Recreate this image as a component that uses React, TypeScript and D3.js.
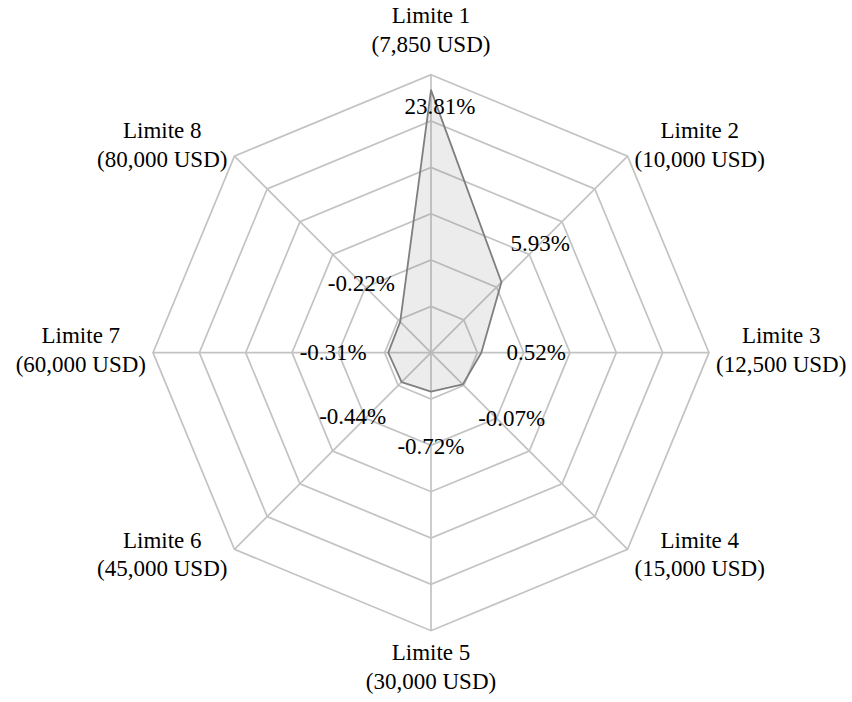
import React from "react";
import * as d3 from "d3";

const categories = ["Limite 1", "Limite 2", "Limite 3", "Limite 4", "Limite 5", "Limite 6", "Limite 7", "Limite 8"];
const limits = ["(7,850 USD)", "(10,000 USD)", "(12,500 USD)", "(15,000 USD)", "(30,000 USD)", "(45,000 USD)", "(60,000 USD)", "(80,000 USD)"];
const values = [23.81, 5.93, 0.52, -0.07, -0.72, -0.44, -0.31, -0.22];
const radialDomain = [-5, 25.5];
const ringCount = 6;

const W = 852;
const H = 702;
const CX = 431;
const CY = 352.7;
const R = 278;
const FONT = "'Liberation Serif', 'Times New Roman', serif";
const FS = 23;

let ctx: CanvasRenderingContext2D | null = null;
function measure(t: string): number {
  if (!ctx) {
    const c = document.createElement("canvas");
    ctx = c.getContext("2d");
  }
  if (!ctx) return t.length * FS * 0.5;
  ctx.font = `${FS}px ${FONT}`;
  return ctx.measureText(t).width;
}

export default function App() {
  const n = categories.length;
  const r = d3.scaleLinear().domain(radialDomain).range([0, R]);
  const angle = (i: number) => (i * 2 * Math.PI) / n; // clockwise from top
  const pt = (i: number, rad: number): [number, number] => [
    CX + rad * Math.sin(angle(i)),
    CY - rad * Math.cos(angle(i)),
  ];

  const radial = d3
    .lineRadial<number>()
    .angle((_d, i) => angle(i))
    .radius((d) => d)
    .curve(d3.curveLinearClosed);

  const ringLevels = d3.range(1, ringCount + 1).map((k) => (R * k) / ringCount);

  const dataLine = d3
    .lineRadial<number>()
    .angle((_d, i) => angle(i))
    .radius((d) => r(d))
    .curve(d3.curveLinearClosed);

  const fmt = (v: number) => d3.format(".2f")(v).replace("\u2212", "-") + "%";

  return (
    <svg width={W} height={H} style={{ position: "absolute", left: 0, top: 0, background: "#fff" }}>
      <g transform={`translate(${CX},${CY})`}>
        {ringLevels.map((lv, k) => (
          <path key={k} d={radial(d3.range(n).map(() => lv)) || ""} fill="none" stroke="#c3c3c3" strokeWidth={1.7} />
        ))}
      </g>
      {categories.map((_c, i) => {
        const [x, y] = pt(i, R);
        return <line key={i} x1={CX} y1={CY} x2={x} y2={y} stroke="#c3c3c3" strokeWidth={1.7} />;
      })}
      <g transform={`translate(${CX},${CY})`}>
        <path d={dataLine(values) || ""} fill="rgba(128,128,128,0.15)" stroke="#7f7f7f" strokeWidth={1.8} strokeLinejoin="round" />
      </g>
      {values.map((v, i) => {
        const rv = r(v);
        const outside = rv + 55 < R - 10;
        const rad = outside ? rv + 55 : rv - 16;
        const [x, y] = pt(i, rad);
        const s = Math.sin(angle(i));
        const co = -Math.cos(angle(i));
        let nx = outside ? 0 : 9;
        let ny = 0;
        if (outside && co > 0.1 && Math.abs(s) > 0.1) {
          nx = (s > 0 ? 1 : -1) * 10;
          ny = -5;
        }
        return (
          <text key={i} x={x + nx} y={y + ny} dy="0.33em" textAnchor="middle" fontFamily={FONT} fontSize={FS} fill="#000">
            {fmt(v)}
          </text>
        );
      })}
      {categories.map((c, i) => {
        const [vx, vy] = pt(i, R);
        const s = Math.sin(angle(i));
        const co = -Math.cos(angle(i));
        const w = Math.max(measure(c), measure(limits[i]));
        let x: number;
        let b1: number;
        if (Math.abs(s) < 0.01) {
          x = vx;
          b1 = co < 0 ? vy - 52 : vy + 29;
        } else {
          const sign = s > 0 ? 1 : -1;
          x = vx + sign * (7 + w / 2);
          b1 = vy - 9.7 + co * 11.3;
        }
        return (
          <text key={i} textAnchor="middle" fontFamily={FONT} fontSize={FS} fill="#000">
            <tspan x={x} y={b1}>{c}</tspan>
            <tspan x={x} y={b1 + 28.8}>{limits[i]}</tspan>
          </text>
        );
      })}
    </svg>
  );
}
